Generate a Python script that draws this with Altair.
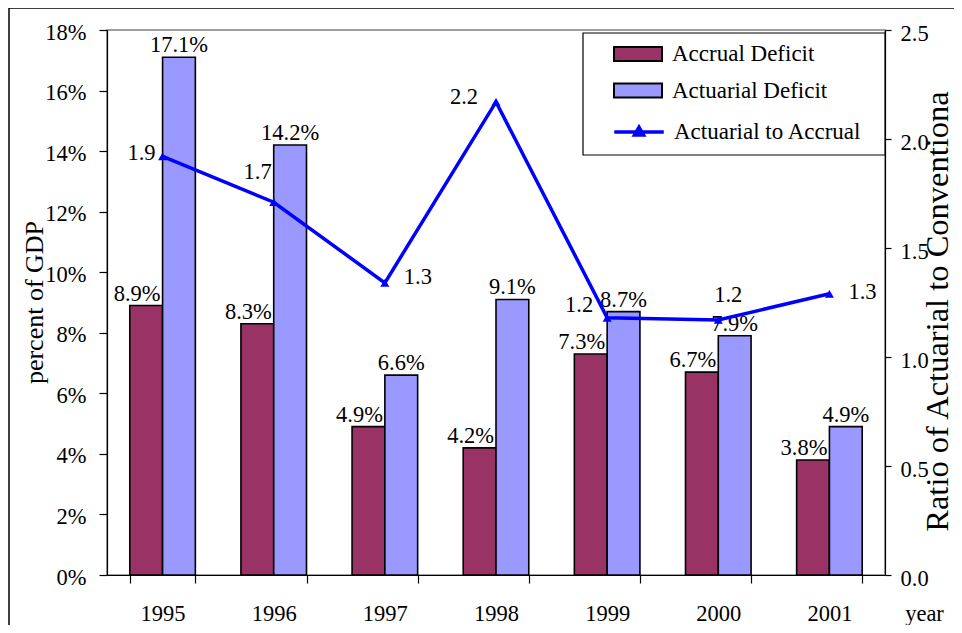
import altair as alt
import pandas as pd

# ---- data ----
years = ["1995", "1996", "1997", "1998", "1999", "2000", "2001"]
accrual = [8.9, 8.3, 4.9, 4.2, 7.3, 6.7, 3.8]
actuarial = [17.1, 14.2, 6.6, 9.1, 8.7, 7.9, 4.9]
ratio = [1.92, 1.71, 1.34, 2.17, 1.18, 1.17, 1.29]
ratio_text = ["1.9", "1.7", "1.3", "2.2", "1.2", "1.2", "1.3"]
series = ["Accrual Deficit", "Actuarial Deficit", "Actuarial to Accrual"]
colors = ["#993366", "#9999FF", "#0000FF"]
pct_ticks = [0, 0.02, 0.04, 0.06, 0.08, 0.10, 0.12, 0.14, 0.16, 0.18]
ratio_ticks = [0, 0.5, 1.0, 1.5, 2.0, 2.5]

bars_df = pd.DataFrame({
    "year": years * 2,
    "series": [series[0]] * len(years) + [series[1]] * len(years),
    "pct": [v / 100 for v in accrual + actuarial],
})
line_df = pd.DataFrame({
    "year": years,
    "line_series": [series[2]] * len(years),
    "ratio": ratio,
    "label": ratio_text,
})
one = pd.DataFrame({"k": [0]})

FONT = "Liberation Serif"
W, H = 778, 545
FS = 22.5

# label placement for ratio labels (align, dx, dy)
placement = {
    "1995": ("right", -7, 4),
    "1996": ("right", -2, -23),
    "1997": ("left", 19, 1),
    "1998": ("right", -18, 2),
    "1999": ("right", -14, -6),
    "2000": ("center", 10, -18),
    "2001": ("left", 19, 5),
}

x_enc = alt.X(
    "year:N", sort=years,
    scale=alt.Scale(paddingInner=0.41, paddingOuter=0.205),
    axis=alt.Axis(
        title="year", tickBand="extent", tickSize=8, labelAngle=0,
        labelBaseline="alphabetic", labelPadding=37, labelFontSize=FS,
        titleFontSize=FS, titleX=817, titleY=45, titleAlign="center",
        titleBaseline="alphabetic",
    ),
)
xoff = alt.XOffset("series:N", sort=series[:2],
                   scale=alt.Scale(domain=series[:2], paddingInner=0, paddingOuter=0))

y_left = alt.Y(
    "pct:Q", scale=alt.Scale(domain=[0, 0.18], nice=False),
    axis=alt.Axis(
        title="percent of GDP", values=pct_ticks, format=".0%", tickSize=8,
        labelPadding=13, labelFontSize=FS, labelOffset=2, titleFontSize=26,
        titleAngle=270, titleX=-65, titleY=272, titleAlign="center",
        titleBaseline="alphabetic",
    ),
)
y_right = alt.Y(
    "ratio:Q", scale=alt.Scale(domain=[0, 2.5], nice=False),
    axis=alt.Axis(
        orient="right", title="Ratio of Actuarial to Conventiona",
        values=ratio_ticks, format=".1f", tickSize=6, labelPadding=9,
        labelFontSize=FS, labelOffset=3, titleFontSize=32.5, titleAngle=270,
        titleX=62, titleY=281, titleAlign="center", titleBaseline="alphabetic",
        titleLimit=1000,
    ),
)

RECT = "M-1.6,-0.47H1.6V0.47H-1.6Z"
LINE = "M-1.65,0H1.65M-0.3,0.2L0,-0.32L0.3,0.2Z"

legend_common = dict(
    title=None, orient="none", legendX=515, padding=0, symbolSize=900,
    labelOffset=18, rowPadding=8.5, labelFont=FONT, labelFontSize=23,
    labelColor="black", labelLimit=0, symbolOpacity=1,
)

color_enc = alt.Color(
    "series:N",
    scale=alt.Scale(domain=series[:2], range=colors[:2]),
    legend=alt.Legend(legendY=8, symbolType=RECT, symbolStrokeColor="black",
                      symbolStrokeWidth=2, **legend_common),
)
stroke_enc = alt.Stroke(
    "line_series:N",
    scale=alt.Scale(domain=[series[2]], range=[colors[2]]),
    legend=alt.Legend(legendY=8 + 2 * 38.5, symbolType=LINE,
                      symbolFillColor=colors[2], symbolStrokeWidth=3.5,
                      **legend_common),
)

# decorations: outer frame and legend box
frame = alt.Chart(one).mark_rect(fill=None, stroke="black", strokeWidth=1.5).encode(
    x=alt.value(-98), x2=alt.value(1000), y=alt.value(-22), y2=alt.value(700)
)
legend_box = alt.Chart(one).mark_rect(fill="white", stroke="black", strokeWidth=1.2).encode(
    x=alt.value(476), x2=alt.value(778), y=alt.value(3), y2=alt.value(125)
)

bars = alt.Chart(bars_df).mark_bar(stroke="black", strokeWidth=1.6).encode(
    x=x_enc, xOffset=xoff, y=y_left, color=color_enc
)
txt_a = alt.Chart(bars_df).transform_filter(alt.datum.series == series[0]).mark_text(
    font=FONT, fontSize=FS, color="black", baseline="alphabetic", dy=-5, dx=-9
).encode(x=x_enc, xOffset=xoff, y=y_left, text=alt.Text("pct:Q", format=".1%"))
txt_b = alt.Chart(bars_df).transform_filter(alt.datum.series == series[1]).mark_text(
    font=FONT, fontSize=FS, color="black", baseline="alphabetic", dy=-5, dx=0
).encode(x=x_enc, xOffset=xoff, y=y_left, text=alt.Text("pct:Q", format=".1%"))

left = alt.layer(bars, txt_a, txt_b)

line = alt.Chart(line_df).mark_line(strokeWidth=3.5).encode(
    x=x_enc, y=y_right, stroke=stroke_enc
)
pts = alt.Chart(line_df).mark_point(
    shape="triangle-up", filled=True, size=80, color=colors[2], opacity=1
).encode(x=x_enc, y=y_right)
labels = []
for yr in years:
    al, dx, dy = placement[yr]
    labels.append(
        alt.Chart(line_df).transform_filter(alt.datum.year == yr).mark_text(
            font=FONT, fontSize=FS, color="black", baseline="alphabetic",
            align=al, dx=dx, dy=dy
        ).encode(x=x_enc, y=y_right, text="label:N")
    )
right = alt.layer(line, pts, *labels)

chart = alt.layer(frame, legend_box, left, right).resolve_scale(
    y="independent"
).properties(
    width=W, height=H,
    padding={"left": 99, "top": 22, "right": 69, "bottom": 50},
    autosize=alt.AutoSizeParams(type="none"),
    background="white",
).configure_view(
    stroke="#808080", strokeWidth=1.5
).configure_axis(
    labelFont=FONT, titleFont=FONT, labelColor="black", titleColor="black",
    domainColor="black", tickColor="black", grid=False, titleFontWeight="normal",
    domainWidth=1.2, tickWidth=1.2,
).configure_text(
    font=FONT
).configure_legend(
    labelFont=FONT
)

chart.save("out.html", embed_options={"renderer": "svg", "actions": False})
